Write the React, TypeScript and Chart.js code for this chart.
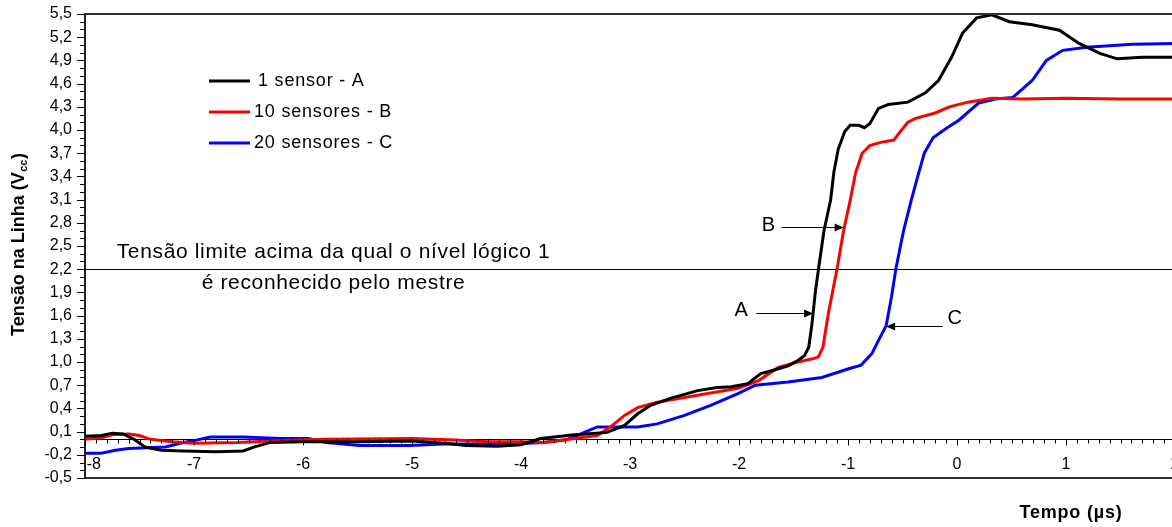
import { useEffect, useRef } from 'react';
import { Chart, registerables } from 'chart.js';

Chart.register(...registerables);

const FONT = '"Liberation Sans", Arial, Helvetica, sans-serif';

// ---- data -------------------------------------------------------------
const seriesLabels = ['1 sensor - A', '10 sensores - B', '20 sensores - C'];
const seriesColors = ['#000000', '#ff0000', '#0000ff'];

// [tempo (µs), tensão (V)]
const seriesA: [number, number][] = [
  [-8.0, 0.04], [-7.85, 0.05], [-7.75, 0.08], [-7.65, 0.07], [-7.55, 0.0], [-7.45, -0.1],
  [-7.3, -0.14], [-7.1, -0.15], [-6.8, -0.16], [-6.55, -0.15], [-6.45, -0.1], [-6.3, -0.04],
  [-6.0, -0.03], [-5.5, -0.03], [-5.0, -0.02], [-4.7, -0.05], [-4.5, -0.08], [-4.22, -0.09],
  [-4.0, -0.07], [-3.82, 0.01], [-3.51, 0.06], [-3.21, 0.09], [-3.05, 0.18], [-2.93, 0.33],
  [-2.81, 0.44], [-2.63, 0.53], [-2.38, 0.63], [-2.2, 0.67], [-2.07, 0.68], [-1.92, 0.72],
  [-1.8, 0.85], [-1.67, 0.9], [-1.55, 0.95], [-1.46, 1.02], [-1.4, 1.08], [-1.36, 1.19],
  [-1.33, 1.5], [-1.3, 1.9], [-1.27, 2.21], [-1.22, 2.7], [-1.16, 3.09], [-1.13, 3.45],
  [-1.09, 3.75], [-1.03, 3.98], [-0.98, 4.06], [-0.9, 4.06], [-0.85, 4.03], [-0.8, 4.08],
  [-0.72, 4.28], [-0.63, 4.33], [-0.45, 4.36], [-0.29, 4.48], [-0.17, 4.64], [-0.05, 4.94],
  [0.05, 5.25], [0.18, 5.45], [0.32, 5.49], [0.48, 5.4], [0.69, 5.36], [0.94, 5.29],
  [1.12, 5.12], [1.31, 4.99], [1.47, 4.92], [1.7, 4.94], [2.0, 4.94],
];

const seriesB: [number, number][] = [
  [-8.0, 0.0], [-7.85, 0.02], [-7.75, 0.06], [-7.6, 0.07], [-7.5, 0.05], [-7.4, 0.0],
  [-7.2, -0.03], [-7.0, -0.05], [-6.6, -0.04], [-6.3, -0.02], [-5.8, 0.0], [-5.0, 0.01],
  [-4.6, -0.01], [-4.3, -0.03], [-4.0, -0.03], [-3.8, -0.04], [-3.51, 0.01], [-3.3, 0.05],
  [-3.18, 0.16], [-3.05, 0.31], [-2.93, 0.41], [-2.75, 0.48], [-2.5, 0.54], [-2.22, 0.61],
  [-2.01, 0.66], [-1.82, 0.76], [-1.64, 0.93], [-1.46, 1.0], [-1.3, 1.05], [-1.27, 1.07],
  [-1.23, 1.19], [-1.18, 1.63], [-1.1, 2.21], [-1.04, 2.7], [-0.98, 3.09], [-0.93, 3.45],
  [-0.87, 3.7], [-0.8, 3.8], [-0.7, 3.84], [-0.58, 3.87], [-0.52, 3.98], [-0.45, 4.1],
  [-0.38, 4.15], [-0.2, 4.22], [-0.07, 4.3], [0.1, 4.36], [0.32, 4.41], [0.6, 4.4],
  [1.0, 4.41], [1.5, 4.4], [2.0, 4.4],
];

const seriesC: [number, number][] = [
  [-8.0, -0.18], [-7.85, -0.18], [-7.72, -0.14], [-7.6, -0.12], [-7.26, -0.1], [-7.1, -0.04],
  [-6.98, -0.01], [-6.85, 0.03], [-6.55, 0.03], [-6.2, 0.01], [-5.95, 0.01], [-5.79, -0.04],
  [-5.48, -0.08], [-5.02, -0.08], [-4.71, -0.06], [-4.1, -0.06], [-3.79, -0.04], [-3.6, -0.01],
  [-3.51, 0.03], [-3.42, 0.09], [-3.3, 0.16], [-3.1, 0.16], [-2.93, 0.16], [-2.75, 0.2],
  [-2.5, 0.31], [-2.26, 0.44], [-2.01, 0.59], [-1.85, 0.7], [-1.55, 0.74], [-1.24, 0.8],
  [-1.0, 0.91], [-0.88, 0.96], [-0.78, 1.11], [-0.72, 1.28], [-0.65, 1.47], [-0.6, 1.85],
  [-0.56, 2.21], [-0.49, 2.7], [-0.42, 3.09], [-0.36, 3.4], [-0.3, 3.7], [-0.22, 3.9],
  [-0.1, 4.02], [0.02, 4.13], [0.2, 4.35], [0.35, 4.4], [0.51, 4.42], [0.69, 4.64],
  [0.82, 4.9], [0.97, 5.03], [1.19, 5.07], [1.61, 5.11], [2.0, 5.12],
];

const xMin = -8;
const xMax = 2;
const xStep = 0.1;
const yMin = -0.5;
const yMax = 5.5;
const yStep = 0.1;
const yLabelEvery = 3;

const thresholdValue = 2.2;
const thresholdText = ['Tensão limite acima da qual o nível lógico 1', 'é reconhecido pelo mestre'];
const yTitleMain = 'Tensão na Linha (V';
const yTitleSub = 'cc';
const yTitleEnd = ')';
const xTitle = 'Tempo (µs)';

// arrow annotations: letter, letter position, arrow start, arrow tip (data coords)
const arrowLabels = ['A', 'B', 'C'];
const arrowTextAt: [number, number][] = [[-1.98, 1.66], [-1.73, 2.77], [-0.02, 1.56]];
const arrowFrom: [number, number][] = [[-1.84, 1.63], [-1.61, 2.75], [-0.13, 1.47]];
const arrowTo: [number, number][] = [[-1.32, 1.63], [-1.04, 2.75], [-0.65, 1.47]];

// ---- helpers -----------------------------------------------------------
const isInt = (v: number) => Math.abs(v - Math.round(v)) < 1e-6;
const isYMajor = (v: number) => Math.round((v - yMin) / yStep) % yLabelEvery === 0;

const overlay = {
  id: 'overlay',
  beforeDatasetsDraw(chart: any) {
    const { ctx, chartArea: a, scales } = chart;
    const y = scales.y;
    ctx.save();
    const ty = Math.round(y.getPixelForValue(thresholdValue)) + 0.5;
    ctx.strokeStyle = '#000';
    ctx.lineWidth = 1;
    ctx.beginPath();
    ctx.moveTo(a.left, ty);
    ctx.lineTo(a.right, ty);
    ctx.stroke();
    ctx.restore();
  },
  afterDraw(chart: any) {
    const { ctx, chartArea: a, scales } = chart;
    const x = scales.x;
    const y = scales.y;
    ctx.save();

    // frame top / bottom
    ctx.strokeStyle = '#303030';
    ctx.lineWidth = 2;
    ctx.beginPath();
    ctx.moveTo(a.left, a.top);
    ctx.lineTo(a.right, a.top);
    ctx.moveTo(a.left, a.bottom);
    ctx.lineTo(a.right, a.bottom);
    ctx.stroke();

    // tick marks
    ctx.strokeStyle = '#000';
    ctx.lineWidth = 1;
    ctx.beginPath();
    y.ticks.forEach((t: any) => {
      const py = Math.round(y.getPixelForValue(t.value)) + 0.5;
      const len = isYMajor(t.value) ? 8 : 5;
      ctx.moveTo(a.left - len, py);
      ctx.lineTo(a.left, py);
    });
    const y0 = Math.round(y.getPixelForValue(0)) + 0.5;
    x.ticks.forEach((t: any) => {
      const px = Math.round(x.getPixelForValue(t.value)) + 0.5;
      const len = isInt(t.value) ? 6 : 4;
      ctx.moveTo(px, y0);
      ctx.lineTo(px, y0 + len);
    });
    ctx.stroke();

    // legend
    const ds = chart.data.datasets;
    ctx.font = `18px ${FONT}`;
    (ctx as any).letterSpacing = '0.8px';
    ctx.textBaseline = 'middle';
    ctx.textAlign = 'left';
    ds.forEach((d: any, i: number) => {
      const ly = a.top + 67 + i * 31;
      ctx.strokeStyle = d.borderColor;
      ctx.lineWidth = 3;
      ctx.beginPath();
      ctx.moveTo(a.left + 124, ly);
      ctx.lineTo(a.left + 165, ly);
      ctx.stroke();
      ctx.fillStyle = '#000';
      ctx.fillText(d.label, a.left + (i === 0 ? 173 : 169), ly);
    });

    // threshold text (centred lines)
    ctx.font = `21px ${FONT}`;
    (ctx as any).letterSpacing = '0.65px';
    ctx.textBaseline = 'alphabetic';
    ctx.textAlign = 'center';
    ctx.fillStyle = '#000';
    const cx = x.getPixelForValue(-5.72);
    ctx.fillText(thresholdText[0], cx, y.getPixelForValue(2.34));
    ctx.fillText(thresholdText[1], cx, y.getPixelForValue(1.95));

    // arrows
    ctx.font = `20px ${FONT}`;
    (ctx as any).letterSpacing = '0px';
    ctx.textAlign = 'center';
    ctx.textBaseline = 'middle';
    arrowLabels.forEach((lab, i) => {
      const tx = x.getPixelForValue(arrowTextAt[i][0]);
      const tyy = y.getPixelForValue(arrowTextAt[i][1]);
      ctx.fillText(lab, tx, tyy);
      const fx = x.getPixelForValue(arrowFrom[i][0]);
      const fy = Math.round(y.getPixelForValue(arrowFrom[i][1])) + 0.5;
      const ex = x.getPixelForValue(arrowTo[i][0]);
      const dir = ex > fx ? 1 : -1;
      ctx.strokeStyle = '#000';
      ctx.lineWidth = 1;
      ctx.beginPath();
      ctx.moveTo(fx, fy);
      ctx.lineTo(ex - dir * 8, fy);
      ctx.stroke();
      ctx.beginPath();
      ctx.moveTo(ex, fy);
      ctx.lineTo(ex - dir * 9, fy - 4);
      ctx.lineTo(ex - dir * 9, fy + 4);
      ctx.closePath();
      ctx.fill();
    });

    // y title (rotated, with subscript)
    ctx.save();
    ctx.translate(17, 245);
    ctx.rotate(-Math.PI / 2);
    ctx.textAlign = 'left';
    ctx.textBaseline = 'alphabetic';
    ctx.font = `bold 18px ${FONT}`;
    const w1 = ctx.measureText(yTitleMain).width;
    const w3 = ctx.measureText(yTitleEnd).width;
    ctx.font = `bold 11px ${FONT}`;
    const w2 = ctx.measureText(yTitleSub).width;
    let sx = -(w1 + w2 + w3) / 2;
    ctx.font = `bold 18px ${FONT}`;
    ctx.fillText(yTitleMain, sx, 6.5);
    sx += w1;
    ctx.font = `bold 11px ${FONT}`;
    ctx.fillText(yTitleSub, sx + 0.5, 9.5);
    sx += w2 + 1;
    ctx.font = `bold 18px ${FONT}`;
    ctx.fillText(yTitleEnd, sx, 6.5);
    ctx.restore();

    // x title
    ctx.font = `bold 18px ${FONT}`;
    (ctx as any).letterSpacing = '0.8px';
    ctx.textAlign = 'center';
    ctx.textBaseline = 'alphabetic';
    ctx.fillText(xTitle, 1071, 518);
    (ctx as any).letterSpacing = '0px';

    ctx.restore();
  },
};

export default function App() {
  const ref = useRef<HTMLCanvasElement>(null);

  useEffect(() => {
    if (!ref.current) return;
    Chart.defaults.font.family = FONT;
    const series = [seriesA, seriesB, seriesC];
    const chart = new Chart(ref.current, {
      type: 'line',
      data: {
        datasets: series.map((s, i) => ({
          label: seriesLabels[i],
          data: s.map(([t, v]) => ({ x: t, y: v })),
          borderColor: seriesColors[i],
          backgroundColor: seriesColors[i],
          borderWidth: 3,
          pointRadius: 0,
          tension: 0,
          fill: false,
        })),
      },
      options: {
        animation: false,
        responsive: false,
        devicePixelRatio: 1,
        layout: { padding: { left: 0, top: 14, right: 9, bottom: 49 } },
        plugins: { legend: { display: false }, tooltip: { enabled: false } },
        scales: {
          x: {
            type: 'linear',
            min: xMin,
            max: xMax,
            position: { y: 0 } as any,
            afterFit: (s: any) => {
              s.paddingLeft = 0;
              s.paddingRight = 0;
            },
            grid: { display: false, drawTicks: false },
            border: { display: true, color: '#000', width: 1 },
            ticks: {
              stepSize: xStep,
              autoSkip: false,
              maxRotation: 0,
              minRotation: 0,
              padding: 16,
              color: '#000',
              font: { size: 16, family: FONT },
              callback: (v: any) => {
                const n = Number(v);
                if (!isInt(n)) return '';
                const s = String(Math.round(n));
                return Math.round(n) === xMin ? '\u0020\u0020\u0020\u0020' + s : s;
              },
            },
          },
          y: {
            type: 'linear',
            min: yMin,
            max: yMax,
            position: 'left',
            afterFit: (s: any) => {
              s.width = 85;
              s.paddingTop = 0;
              s.paddingBottom = 0;
            },
            grid: { display: false, drawTicks: false },
            border: { display: true, color: '#202020', width: 2 },
            ticks: {
              stepSize: yStep,
              autoSkip: false,
              padding: 13,
              color: '#000',
              font: { size: 16, family: FONT },
              callback: (v: any) => {
                const n = Number(v);
                return isYMajor(n) ? n.toFixed(1).replace('.', ',') : '';
              },
            },
          },
        },
      },
      plugins: [overlay],
    });
    return () => chart.destroy();
  }, []);

  return (
    <div
      style={{
        position: 'absolute',
        left: 0,
        top: 0,
        width: 1172,
        height: 527,
        overflow: 'hidden',
        background: '#fff',
      }}
    >
      <canvas ref={ref} width={1184} height={527} style={{ display: 'block', width: 1184, height: 527 }} />
    </div>
  );
}
